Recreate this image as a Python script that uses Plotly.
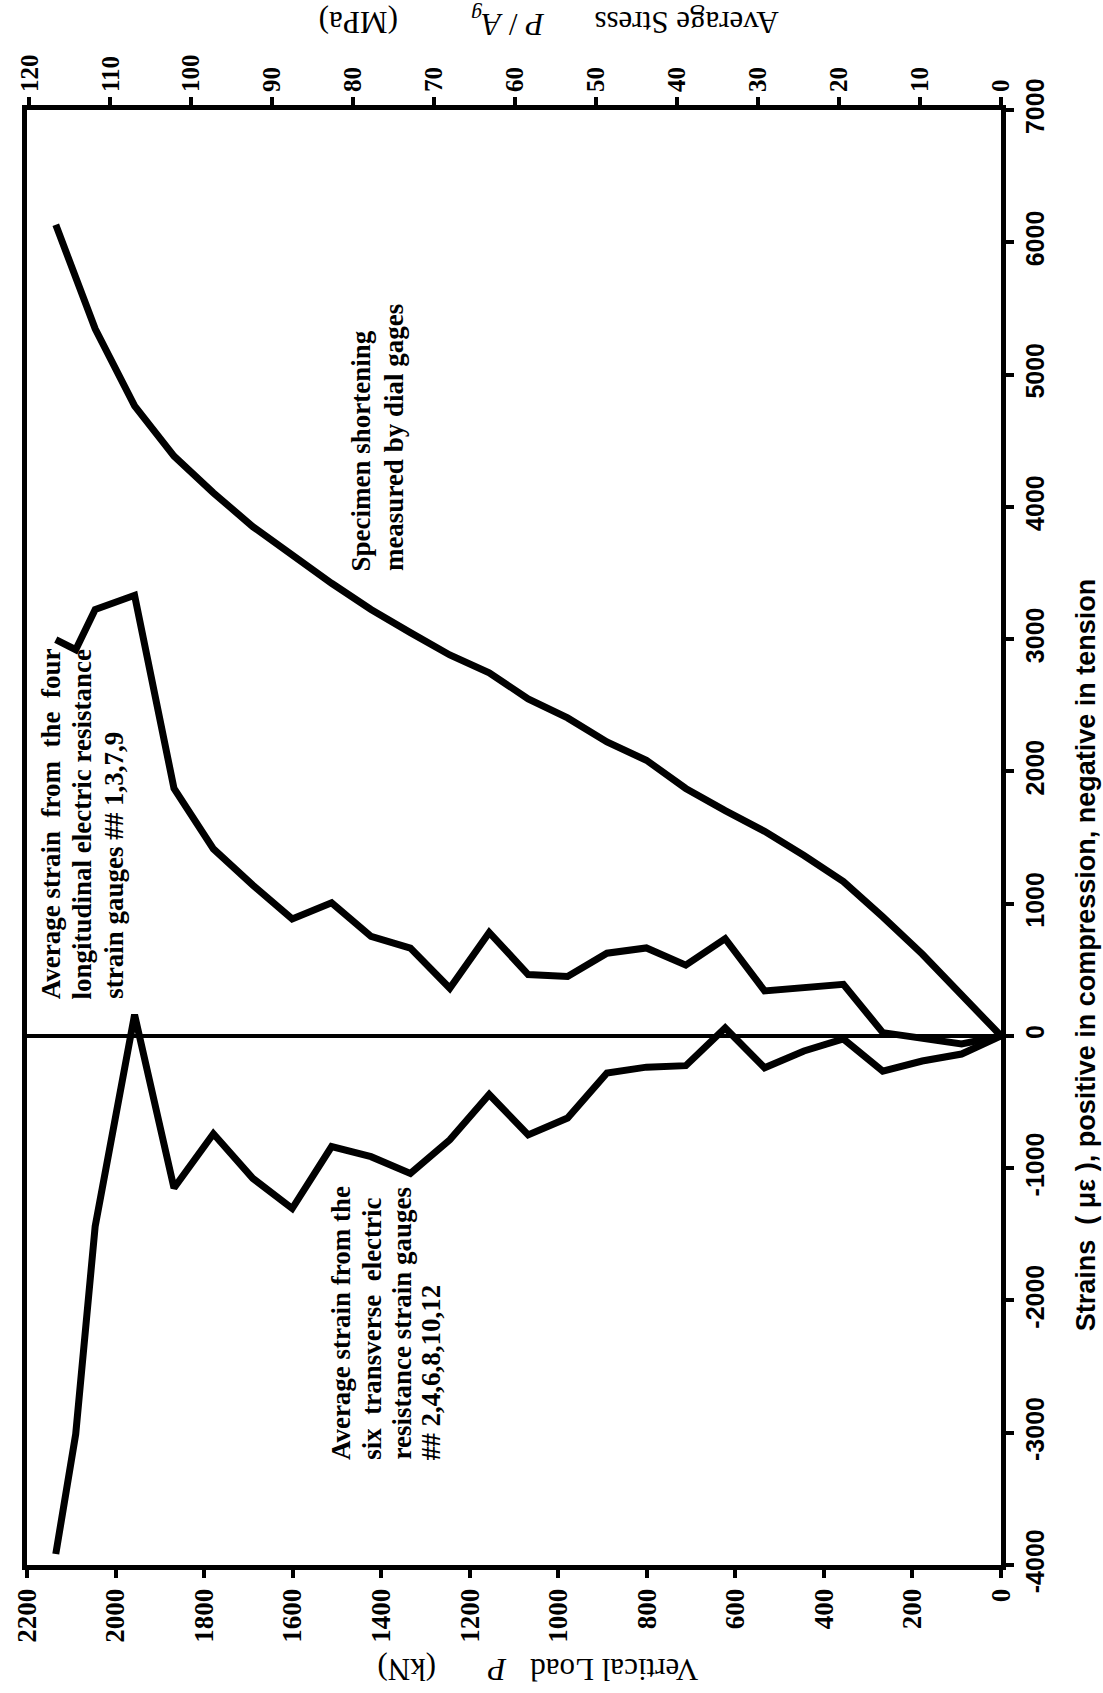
import plotly.graph_objects as go

# Vertical load P (kN) and measured strains (micro-strain)
dial_load = [0, 89, 178, 267, 356, 445, 534, 623, 712, 801, 890, 979, 1068,
             1156, 1245, 1334, 1423, 1512, 1601, 1690, 1779, 1868, 1957, 2046, 2135]
dial_strain = [0, 311, 619, 900, 1167, 1364, 1547, 1703, 1871, 2084, 2222, 2404, 2548,
               2745, 2880, 3049, 3224, 3422, 3630, 3850, 4106, 4383, 4763, 5346, 6132]

long_load = [0, 89, 267, 356, 534, 623, 712, 801, 890, 979, 1068, 1156, 1245,
             1334, 1423, 1512, 1601, 1690, 1779, 1868, 1957, 2046, 2090, 2135]
long_strain = [0, -60, 25, 390, 340, 735, 535, 665, 625, 449, 464, 782, 360,
               664, 753, 1006, 884, 1140, 1414, 1871, 3331, 3224, 2920, 2996]

trans_load = [0, 89, 178, 267, 356, 445, 534, 623, 712, 801, 890, 979, 1068,
              1156, 1245, 1334, 1423, 1512, 1601, 1690, 1779, 1868, 1957, 2046, 2090, 2135]
trans_strain = [0, -137, -190, -266, -23, -114, -241, 60, -225, -236, -280, -621, -748,
                -443, -786, -1040, -913, -837, -1305, -1077, -740, -1150, 160, -1439, -3011, -3917]

load_ticks = list(range(0, 2201, 200))
stress_ticks = list(range(0, 121, 10))
strain_ticks = list(range(-4000, 7001, 1000))

SERIF = "Liberation Serif"
SANS = "Liberation Sans"
line_style = dict(color="black", width=7)

fig = go.Figure()
for xs, ys in [(dial_load, dial_strain), (long_load, long_strain), (trans_load, trans_strain)]:
    fig.add_trace(go.Scatter(x=xs, y=ys, mode="lines", line=line_style,
                             showlegend=False, hoverinfo="skip"))

fig.update_layout(
    width=1103, height=1693,
    margin=dict(l=19, r=102, t=110, b=128),
    paper_bgcolor="white", plot_bgcolor="white",
    xaxis=dict(range=[2200, 0], tickvals=load_ticks, ticks="outside", ticklen=8,
               tickwidth=4, tickcolor="black", tickangle=-90,
               tickfont=dict(family=SERIF, size=27, color="black", weight="bold"),
               showline=True, linewidth=5, linecolor="black",
               showgrid=False, zeroline=False),
    xaxis2=dict(range=[120.3, 0], tickvals=stress_ticks, ticks="outside", ticklen=8,
                tickwidth=4, tickcolor="black", tickangle=-90, overlaying="x", side="top",
                anchor="y",
                tickfont=dict(family=SERIF, size=25, color="black", weight="bold"),
                showline=True, linewidth=5, linecolor="black",
                showgrid=False, zeroline=False),
    yaxis=dict(range=[-4000, 7000], tickvals=strain_ticks,
               ticktext=[str(v) for v in strain_ticks], side="right", ticks="outside",
               ticklen=8, tickwidth=4, tickcolor="black", tickangle=-90,
               tickfont=dict(family=SANS, size=25, color="black", weight="bold"),
               showline=True, linewidth=5, linecolor="black", mirror=True,
               showgrid=False, zeroline=True, zerolinewidth=4, zerolinecolor="black"),
)

# keep the stress axis visible
fig.add_trace(go.Scatter(x=[0], y=[0], xaxis="x2", yaxis="y", mode="markers",
                         marker=dict(opacity=0), showlegend=False, hoverinfo="skip"))


def px(x):
    return (x - 19) / 983


def py(y):
    return (1565 - y) / 1455


# curve labels: one entry per text line -> (text, centre x, start y) in pixels
label_lines = [
    ("Specimen shortening", 356, 573),
    ("measured by dial gages", 389, 573),
    ("Average strain\u00a0 from\u00a0 the\u00a0 four", 43, 1001),
    ("longitudinal electric resistance", 75, 1001),
    ("strain gauges ## 1,3,7,9", 106, 1001),
    ("Average strain from the", 336, 1462),
    ("six\u00a0 transverse\u00a0 electric", 367, 1462),
    ("resistance strain gauges", 397, 1462),
    ("## 2,4,6,8,10,12", 427, 1462),
]
for text, x, y in label_lines:
    fig.add_annotation(text=text, xref="paper", yref="paper", x=px(x), y=py(y),
                       xanchor="center", yanchor="bottom", textangle=-90,
                       showarrow=False,
                       font=dict(family=SERIF, size=27, color="black", weight="bold"))

# axis titles
fig.add_annotation(text="Strains\u00a0 ( με ), positive in compression, negative in tension",
                   xref="paper", yref="paper", x=px(1088), y=py(955),
                   xanchor="center", yanchor="middle", textangle=-90, showarrow=False,
                   font=dict(family=SANS, size=27, color="black", weight="bold"))

title_parts = [
    ("Vertical Load", 612, 1670), ("<i>P</i>", 494, 1670), ("(kN)", 402, 1670),
    ("Average Stress", 684, 22), ("<i>P</i> / <i>A<sub>g</sub></i>", 505, 22), ("(MPa)", 353, 22),
]
for text, x, y in title_parts:
    fig.add_annotation(text=text, xref="paper", yref="paper", x=px(x), y=py(y),
                       xanchor="center", yanchor="middle", textangle=180, showarrow=False,
                       font=dict(family=SERIF, size=31, color="black"))

fig.write_html("out.html")
